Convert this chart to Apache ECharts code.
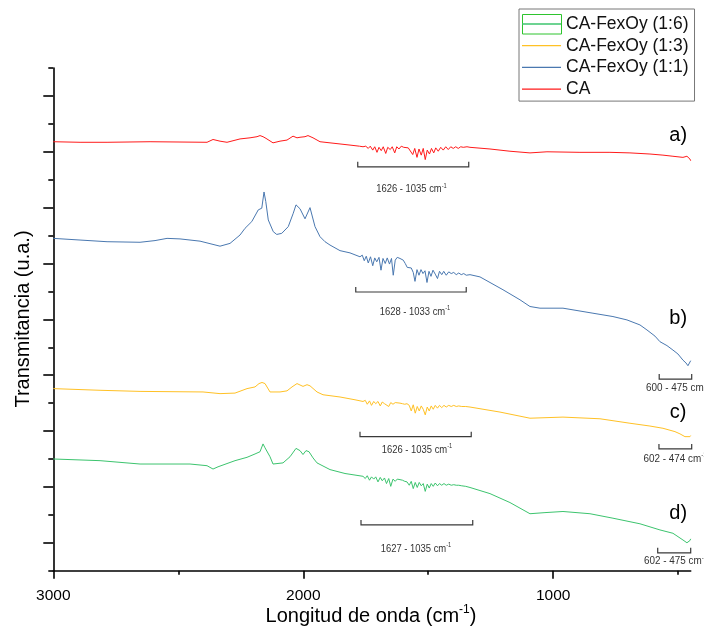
<!DOCTYPE html>
<html>
<head>
<meta charset="utf-8">
<script src="https://cdn.jsdelivr.net/npm/echarts@6/dist/echarts.min.js"></script>
<style>html,body{margin:0;padding:0;background:#fff;}#c{width:704px;height:627px;}</style>
</head>
<body>
<div id="c"></div>
<script>
// ---- DATA (wavenumber cm^-1, transmittance arbitrary units) ----
const seriesNames = ['CA', 'CA-FexOy (1:1)', 'CA-FexOy (1:3)', 'CA-FexOy (1:6)'];
const legendOrder = ['CA-FexOy (1:6)', 'CA-FexOy (1:3)', 'CA-FexOy (1:1)', 'CA'];

const dataCA = [
[3000,76.8],[2893,76.7],[2785,76.7],[2613,76.8],[2385,76.7],[2361,77.2],[2333,76.9],[2305,76.7],[2253,77.3],[2213,77.5],[2185,77.7],[2173,77.9],[2161,77.7],[2149,77.4],[2121,76.6],[2093,76.9],[2065,77.1],[2041,77.8],[2025,77.5],[2013,77.6],[1993,77.7],[1981,77.9],[1961,77.5],[1933,76.8],[1893,76.6],[1853,76.4],[1813,76.2],[1775,76.0],
[1761,75.9],[1750,76.0],[1740,75.6],[1732,76.0],[1722,75.3],[1714,75.9],[1705,74.9],[1697,75.8],[1688,75.2],[1680,75.9],[1670,74.7],[1662,75.8],[1652,75.4],[1644,75.9],[1634,74.8],[1626,75.9],[1617,75.5],[1608,76.0],[1598,75.8],[1590,76.0],[1580,75.7],[1572,76.0],[1562,74.5],[1554,75.6],[1545,74.0],[1537,75.5],[1528,74.4],[1520,75.6],[1512,73.6],[1504,75.3],[1495,74.6],[1487,75.6],[1478,74.8],[1470,75.7],[1460,75.1],[1450,75.8],[1440,75.3],[1430,75.9],[1420,75.4],[1410,75.9],[1400,75.6],[1390,75.9],[1380,75.6],[1370,75.9],[1360,75.8],[1345,75.9],[1333,75.8],
[1253,75.5],[1173,75.1],[1093,74.8],[1025,75.0],[893,74.9],[773,74.9],[693,74.8],[613,74.6],[561,74.4],[521,74.2],[481,74.0],[465,74.2],[453,73.7],[450,73.4]
];

const dataFe11 = [
[3000,59.5],[2893,59.2],[2785,58.9],[2653,58.8],[2593,59.1],[2545,59.5],[2493,59.4],[2413,59.0],[2333,58.1],[2293,58.6],[2253,60.1],[2233,61.3],[2206,62.5],[2180,64.6],[2166,64.9],[2157,67.8],[2150,66.1],[2140,62.8],[2120,60.7],[2106,60.2],[2086,60.4],[2060,61.6],[2040,64.0],[2029,65.5],[2013,64.8],[1993,63.0],[1973,65.0],[1953,61.6],[1933,59.8],[1913,58.9],[1893,58.3],[1853,57.3],[1813,56.9],
[1773,56.2],[1764,56.5],[1756,55.5],[1748,56.3],[1740,55.1],[1731,56.2],[1722,54.6],[1714,56.0],[1706,55.3],[1697,56.1],[1689,53.8],[1681,55.9],[1672,55.0],[1664,56.0],[1655,54.9],[1647,55.9],[1640,52.9],[1632,55.6],[1624,56.1],[1613,55.9],
[1600,55.6],[1592,55.0],[1584,54.3],[1576,54.0],[1568,54.2],[1560,53.4],[1553,51.8],[1545,53.9],[1537,52.9],[1529,53.9],[1521,53.2],[1513,53.7],[1505,51.6],[1497,53.6],[1489,52.7],[1481,53.8],[1472,53.1],[1463,52.3],[1455,53.6],[1446,53.0],[1438,53.6],[1428,52.9],[1418,53.5],[1408,53.2],[1398,53.4],[1388,53.0],[1378,53.3],[1368,53.0],[1358,53.2],[1348,52.9],[1333,53.0],
[1293,52.6],[1201,50.3],[1133,48.5],[1093,47.3],[1053,47.0],[961,47.0],[841,46.1],[761,45.5],[705,44.9],[653,44.0],[625,43.1],[593,42.0],[573,41.0],[545,40.3],[521,39.5],[501,38.8],[481,37.7],[469,37.2],[461,36.7],[455,36.8],[450,37.6]
];

const dataFe13 = [
[3000,32.6],[2813,32.3],[2653,32.1],[2401,32.0],[2333,31.7],[2273,31.8],[2225,32.6],[2193,32.9],[2177,33.5],[2165,33.7],[2153,33.5],[2133,32.0],[2093,32.0],[2065,32.2],[2045,32.9],[2025,33.5],[2001,33.0],[1985,33.3],[1973,33.1],[1945,32.0],[1921,31.5],[1853,31.1],[1793,30.6],
[1761,30.3],[1752,30.5],[1744,29.8],[1735,30.4],[1727,29.6],[1718,30.3],[1710,29.9],[1701,30.3],[1692,29.5],[1684,30.2],[1675,29.9],[1667,30.2],[1658,29.4],[1650,30.1],[1641,29.8],[1632,30.1],[1624,30.0],[1613,30.0],[1603,29.9],[1594,29.8],[1585,29.9],[1576,29.6],[1568,28.6],[1560,29.7],[1552,28.2],[1544,29.4],[1536,28.6],[1528,29.5],[1520,28.9],[1512,27.9],[1504,29.3],[1496,28.6],[1488,29.5],[1480,28.9],[1472,29.6],[1463,29.1],[1455,29.6],[1446,29.2],[1437,29.6],[1428,29.3],[1418,29.6],[1408,29.4],[1398,29.6],[1388,29.4],[1378,29.5],[1366,29.4],[1350,29.4],[1333,29.3],
[1213,28.4],[1093,27.3],[961,27.5],[813,27.2],[693,26.4],[613,25.9],[561,25.5],[513,24.9],[493,24.5],[473,24.0],[465,23.7],[453,24.0],[450,24.2]
];

const dataFe16 = [
[3000,20.0],[2813,19.7],[2653,19.1],[2453,19.1],[2385,18.8],[2361,18.2],[2353,18.1],[2341,18.6],[2333,18.4],[2273,19.7],[2225,20.3],[2193,20.9],[2173,21.3],[2161,22.7],[2153,22.0],[2133,20.4],[2121,19.1],[2081,19.3],[2053,20.4],[2029,21.9],[2013,21.5],[2001,20.8],[1989,21.5],[1977,21.3],[1961,20.2],[1945,19.3],[1893,18.1],[1833,17.4],
[1761,16.9],[1752,16.5],[1744,17.0],[1735,16.2],[1727,16.8],[1718,16.4],[1710,16.8],[1701,15.9],[1692,16.7],[1684,16.1],[1675,16.6],[1667,15.6],[1658,16.5],[1650,15.1],[1641,16.4],[1632,16.0],[1624,16.4],[1613,16.3],[1603,16.2],[1594,16.0],[1585,15.9],[1576,15.3],[1568,16.0],[1560,14.7],[1552,15.8],[1544,14.9],[1536,15.8],[1528,15.2],[1520,15.6],[1512,14.2],[1504,15.5],[1496,14.8],[1488,15.6],[1480,15.1],[1472,15.7],[1463,15.2],[1455,15.6],[1446,15.3],[1437,15.6],[1428,15.3],[1418,15.5],[1408,15.3],[1398,15.4],[1388,15.3],[1378,15.3],[1366,15.2],[1350,15.1],[1333,14.9],
[1253,13.8],[1173,12.2],[1093,10.2],[1033,10.4],[961,10.6],[853,10.2],[761,9.4],[653,8.4],[573,7.3],[521,6.7],[481,5.5],[465,5.0],[453,5.4],[450,5.7]
];

// x axis
const xMin = 450, xMax = 3000;
const xMajorTicks = [3000, 2000, 1000];
const xMinorTicks = [2500, 1500, 500];
// y axis (no labels)
const yMin = 0, yMax = 90;
const yMajorTicks = [5, 15, 25, 35, 45, 55, 65, 75, 85];
const yMinorTicks = [0, 10, 20, 30, 40, 50, 60, 70, 80, 90];

// annotation brackets: [from, to, level]
const bracketRanges = [[1782,1338,72.3],[1790,1348,49.9],[1773,1328,24.0],[1769,1322,8.2],[576,446,34.3],[577,446,21.8],[582,450,3.2]];
const rangeLabels = ['1626 - 1035', '1628 - 1033', '1626 - 1035', '1627 - 1035', '600 - 475', '602 - 474', '602 - 475'];
const rangeLabelAnchors = [[1567,68.3],[1553,46.4],[1545,21.6],[1549,3.9],[629,32.7],[639,20.0],[637,1.7]];
const panelLetters = ['a)', 'b)', 'c)', 'd)'];
const panelLetterAnchors = [[500,78.0],[500,45.1],[500,28.4],[500,10.2]];

// ---- STYLE ----
const FONT = "'Liberation Sans', Arial, Helvetica, sans-serif";
const colors = {'CA':'#ff1a1a','CA-FexOy (1:1)':'#4a78b0','CA-FexOy (1:3)':'#ffc125','CA-FexOy (1:6)':'#3cc46e'};
const seriesData = {'CA':dataCA,'CA-FexOy (1:1)':dataFe11,'CA-FexOy (1:3)':dataFe13,'CA-FexOy (1:6)':dataFe16};

const chart = echarts.init(document.getElementById('c'), null, {renderer:'canvas'});

const lineSeries = seriesNames.map(n => ({
  name: n, type: 'line', data: seriesData[n], symbol: 'none', showSymbol: false,
  lineStyle: {width: 1, color: colors[n]}, itemStyle: {color: colors[n]},
  xAxisIndex: 0, yAxisIndex: 0, animation: false, silent: true
}));

const bracketSeries = {
  type: 'custom', xAxisIndex: 0, yAxisIndex: 0, silent: true, animation: false,
  data: bracketRanges, encode: {x: [0, 1], y: 2},
  renderItem: function (params, api) {
    const p1 = api.coord([api.value(0), api.value(2)]);
    const p2 = api.coord([api.value(1), api.value(2)]);
    return {type: 'polyline', shape: {points: [[p1[0], p1[1]-5],[p1[0], p1[1]],[p2[0], p2[1]],[p2[0], p2[1]-5]]},
      style: {stroke: '#3a3a3a', lineWidth: 1.2, fill: null}};
  }
};

const labelSeries = {
  type: 'custom', xAxisIndex: 0, yAxisIndex: 0, silent: true, animation: false,
  data: rangeLabelAnchors, encode: {x: 0, y: 1},
  renderItem: function (params, api) {
    const i = params.dataIndex;
    const p = api.coord([api.value(0), api.value(1)]);
    const small = i >= 4;
    return {type: 'text', x: p[0], y: p[1], scaleX: small ? 0.86 : 0.82,
      style: {text: '{m|' + rangeLabels[i] + ' cm}{s|-1}',
        align: small ? 'left' : 'center', verticalAlign: 'middle',
        rich: {m: {fontSize: small ? 11.5 : 11.5, lineHeight: 14, fontFamily: FONT, fill: '#333'},
               s: {fontSize: 7, lineHeight: 7, verticalAlign: 'top', fontFamily: FONT, fill: '#333'}}}};
  }
};

const letterSeries = {
  type: 'custom', xAxisIndex: 0, yAxisIndex: 0, silent: true, animation: false,
  data: panelLetterAnchors, encode: {x: 0, y: 1},
  renderItem: function (params, api) {
    const p = api.coord([api.value(0), api.value(1)]);
    return {type: 'text', x: p[0], y: p[1],
      style: {text: panelLetters[params.dataIndex], align: 'center', verticalAlign: 'middle',
        fontSize: 20, fontFamily: FONT, fill: '#000'}};
  }
};

const option = {
  backgroundColor: '#fff',
  animation: false,
  grid: {left: 53.3, right: 13.3, top: 68, bottom: 56.3, containLabel: false},
  legend: {
    data: legendOrder.map(n => ({name: n, icon: 'rect'})), orient: 'vertical', left: 519, top: 9,
    padding: [5, 6, 2, 3], itemGap: 1.7, itemWidth: 39, itemHeight: 1.3,
    borderColor: '#777', borderWidth: 1, selectedMode: false,
    textStyle: {fontSize: 17.5, fontFamily: FONT, color: '#111', lineHeight: 20}
  },
  xAxis: [
    {type: 'value', min: xMin, max: xMax, inverse: true, position: 'bottom',
     axisLine: {show: true, onZero: false, lineStyle: {color: '#000', width: 1.6}},
     axisTick: {show: true, customValues: xMajorTicks, length: 8, lineStyle: {color: '#000', width: 1.6}},
     axisLabel: {show: true, customValues: xMajorTicks, margin: 17, verticalAlign: 'top',
       formatter: function (v) { return String(v); },
       fontSize: 15.5, fontFamily: FONT, color: '#000'},
     splitLine: {show: false}},
    {type: 'value', min: xMin, max: xMax, inverse: true, position: 'bottom',
     axisLine: {show: false},
     axisTick: {show: true, customValues: xMinorTicks, length: 4, lineStyle: {color: '#000', width: 1.6}},
     axisLabel: {show: false}, splitLine: {show: false}}
  ],
  yAxis: [
    {type: 'value', min: yMin, max: yMax, position: 'left',
     axisLine: {show: true, onZero: false, lineStyle: {color: '#000', width: 1.6}},
     axisTick: {show: true, customValues: yMajorTicks, length: 10, lineStyle: {color: '#000', width: 1.6}},
     axisLabel: {show: false}, splitLine: {show: false}},
    {type: 'value', min: yMin, max: yMax, position: 'left',
     axisLine: {show: false},
     axisTick: {show: true, customValues: yMinorTicks, length: 5, lineStyle: {color: '#000', width: 1.6}},
     axisLabel: {show: false}, splitLine: {show: false}}
  ],
  graphic: [
    {type: 'text', x: 371, y: 616, silent: true,
     style: {text: '{m|Longitud de onda (cm}{s|-1}{m|)}', align: 'center', verticalAlign: 'middle',
       rich: {m: {fontSize: 20, lineHeight: 24, fontFamily: FONT, fill: '#000'},
              s: {fontSize: 12, lineHeight: 12, verticalAlign: 'top', fontFamily: FONT, fill: '#000'}}}},
    {type: 'text', x: 23, y: 319, rotation: Math.PI / 2, silent: true,
     style: {text: 'Transmitancia (u.a.)', align: 'center', verticalAlign: 'middle',
       fontSize: 20, fontFamily: FONT, fill: '#000'}},
    {type: 'rect', silent: true, shape: {x: 522.5, y: 14.5, width: 39, height: 19.5},
     style: {fill: 'none', stroke: '#2ec42e', lineWidth: 1}}
  ],
  series: lineSeries.concat([bracketSeries, labelSeries, letterSeries])
};

chart.setOption(option);
</script>
</body>
</html>
